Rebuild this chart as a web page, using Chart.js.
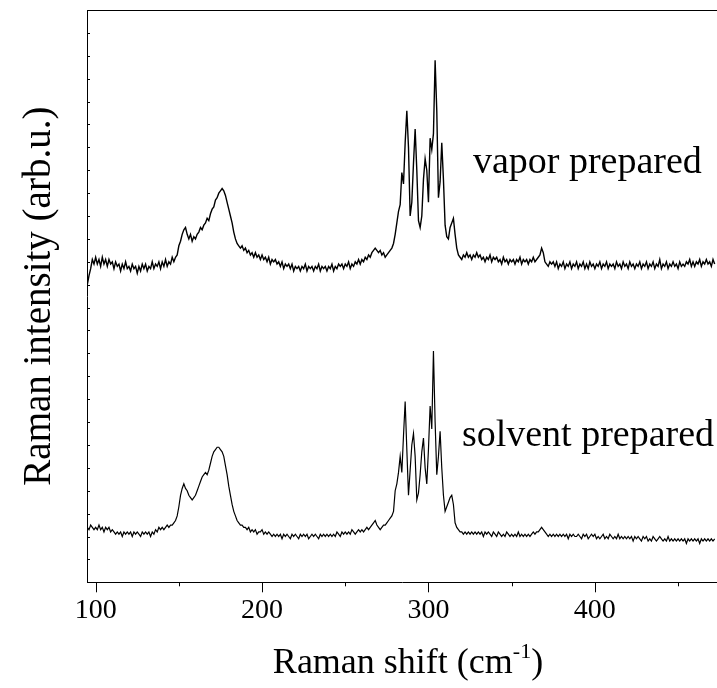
<!DOCTYPE html>
<html>
<head>
<meta charset="utf-8">
<script src="https://cdn.jsdelivr.net/npm/chart.js@4.4.0/dist/chart.umd.min.js"></script>
<style>
    html, body { margin: 0; padding: 0; background: #fff; }
    #wrap { width: 717px; height: 688px; }
</style>
</head>
<body>
<div id="wrap"><canvas id="ramanChart" width="717" height="688"></canvas></div>
<script>
// Raman shift (cm-1), one point per wavenumber
const shift = [95, 96, 97, 98, 99,
    100, 101, 102, 103, 104, 105, 106, 107, 108, 109,
    110, 111, 112, 113, 114, 115, 116, 117, 118, 119,
    120, 121, 122, 123, 124, 125, 126, 127, 128, 129,
    130, 131, 132, 133, 134, 135, 136, 137, 138, 139,
    140, 141, 142, 143, 144, 145, 146, 147, 148, 149,
    150, 151, 152, 153, 154, 155, 156, 157, 158, 159,
    160, 161, 162, 163, 164, 165, 166, 167, 168, 169,
    170, 171, 172, 173, 174, 175, 176, 177, 178, 179,
    180, 181, 182, 183, 184, 185, 186, 187, 188, 189,
    190, 191, 192, 193, 194, 195, 196, 197, 198, 199,
    200, 201, 202, 203, 204, 205, 206, 207, 208, 209,
    210, 211, 212, 213, 214, 215, 216, 217, 218, 219,
    220, 221, 222, 223, 224, 225, 226, 227, 228, 229,
    230, 231, 232, 233, 234, 235, 236, 237, 238, 239,
    240, 241, 242, 243, 244, 245, 246, 247, 248, 249,
    250, 251, 252, 253, 254, 255, 256, 257, 258, 259,
    260, 261, 262, 263, 264, 265, 266, 267, 268, 269,
    270, 271, 272, 273, 274, 275, 276, 277, 278, 279,
    280, 281, 282, 283, 284, 285, 286, 287, 288, 289,
    290, 291, 292, 293, 294, 295, 296, 297, 298, 299,
    300, 301, 302, 303, 304, 305, 306, 307, 308, 309,
    310, 311, 312, 313, 314, 315, 316, 317, 318, 319,
    320, 321, 322, 323, 324, 325, 326, 327, 328, 329,
    330, 331, 332, 333, 334, 335, 336, 337, 338, 339,
    340, 341, 342, 343, 344, 345, 346, 347, 348, 349,
    350, 351, 352, 353, 354, 355, 356, 357, 358, 359,
    360, 361, 362, 363, 364, 365, 366, 367, 368, 369,
    370, 371, 372, 373, 374, 375, 376, 377, 378, 379,
    380, 381, 382, 383, 384, 385, 386, 387, 388, 389,
    390, 391, 392, 393, 394, 395, 396, 397, 398, 399,
    400, 401, 402, 403, 404, 405, 406, 407, 408, 409,
    410, 411, 412, 413, 414, 415, 416, 417, 418, 419,
    420, 421, 422, 423, 424, 425, 426, 427, 428, 429,
    430, 431, 432, 433, 434, 435, 436, 437, 438, 439,
    440, 441, 442, 443, 444, 445, 446, 447, 448, 449,
    450, 451, 452, 453, 454, 455, 456, 457, 458, 459,
    460, 461, 462, 463, 464, 465, 466, 467, 468, 469,
    470, 471, 472];

// vapor prepared (upper trace), arb. units
const vapor = [130, 134, 137, 141, 139,
    142, 139, 141, 138, 142, 139, 141, 138, 141, 139,
    140, 137, 140, 138, 139, 136, 139, 137, 140, 137,
    138, 136, 139, 137, 138, 135, 138, 136, 139, 137,
    139, 136, 138, 137, 140, 137, 139, 138, 140, 137,
    140, 138, 141, 138, 140, 139, 142, 140, 142, 143,
    147, 149, 152, 154, 155, 152, 150, 152, 149, 151,
    150, 152, 153, 155, 154, 156, 157, 159, 158, 161,
    163, 164, 167, 168, 170, 171, 172, 171, 169, 166,
    163, 160, 157, 153, 150, 148, 147, 146, 147, 145,
    146, 144, 145, 143, 144, 142, 144, 142, 143, 141,
    143, 141, 142, 140, 142, 139, 141, 140, 141, 139,
    140, 138, 140, 137, 139, 138, 139, 137, 139, 136,
    138, 137, 138, 136, 138, 137, 139, 136, 138, 137,
    138, 136, 138, 137, 139, 136, 138, 137, 138, 136,
    138, 137, 139, 136, 138, 137, 139, 138, 139, 137,
    139, 138, 140, 137, 139, 138, 140, 139, 141, 139,
    141, 140, 142, 141, 143, 142, 144, 145, 146, 145,
    144, 145, 143, 144, 142, 143, 144, 145, 146, 148,
    152, 157, 162, 165, 179, 174, 192, 206, 190, 160,
    166, 183, 198, 180, 158, 155, 160, 176, 185, 180,
    166, 194, 189, 196, 228, 206, 168, 175, 192, 176,
    156, 151, 150, 155, 157, 159, 152, 146, 143, 142,
    141, 143, 142, 144, 142, 143, 141, 143, 142, 144,
    142, 143, 141, 142, 140, 142, 141, 143, 140, 142,
    141, 142, 140, 141, 139, 142, 140, 141, 139, 141,
    140, 141, 139, 141, 140, 142, 139, 141, 140, 141,
    139, 141, 140, 142, 140, 141, 142, 143, 146, 144,
    140, 139, 138, 140, 139, 140, 138, 140, 137, 139,
    138, 140, 137, 139, 138, 140, 137, 139, 138, 140,
    137, 139, 138, 140, 137, 139, 137, 140, 138, 139,
    137, 139, 138, 140, 137, 139, 138, 140, 137, 139,
    138, 139, 137, 140, 138, 139, 137, 140, 138, 139,
    137, 140, 138, 139, 137, 139, 138, 140, 137, 139,
    138, 140, 137, 139, 138, 140, 137, 139, 138, 141,
    137, 139, 138, 140, 137, 139, 138, 140, 138, 139,
    137, 140, 138, 139, 138, 140, 139, 141, 138, 140,
    138, 140, 139, 141, 138, 140, 139, 141, 139, 140,
    138, 141, 139];

// solvent prepared (lower trace), arb. units
const solvent = [24, 23, 25, 24, 23,
    24, 23, 25, 23, 24, 22, 24, 23, 24, 22,
    23, 22, 21, 22, 21, 22, 20, 22, 21, 22,
    21, 22, 20, 22, 21, 22, 21, 20, 22, 21,
    22, 21, 22, 20, 22, 21, 23, 22, 24, 23,
    24, 23, 24, 25, 24, 25, 25, 26, 27, 29,
    33, 38, 41, 43, 41, 40, 38, 37, 36, 37,
    38, 40, 42, 44, 46, 47, 48, 47, 49, 52,
    55, 57, 58, 59, 59, 58, 57, 55, 51, 47,
    42, 38, 34, 31, 29, 27, 26, 25, 25, 24,
    24, 23, 24, 22, 23, 22, 23, 21, 22, 22,
    23, 21, 22, 21, 22, 21, 20, 21, 20, 21,
    20, 21, 19, 21, 20, 21, 20, 19, 21, 20,
    21, 20, 19, 21, 20, 21, 20, 21, 19, 20,
    21, 20, 21, 20, 19, 21, 20, 21, 20, 21,
    20, 21, 20, 21, 20, 22, 21, 20, 22, 21,
    22, 21, 22, 21, 23, 22, 21, 22, 23, 22,
    23, 22, 23, 24, 23, 24, 25, 26, 27, 25,
    24, 23, 24, 25, 25, 26, 27, 28, 29, 31,
    40, 43, 48, 55, 48, 64, 79, 58, 38, 49,
    60, 65, 55, 36, 39, 47, 57, 63, 50, 43,
    58, 77, 67, 101, 70, 47, 55, 66, 50, 38,
    31, 33, 35, 37, 38, 34, 26, 24, 23, 22,
    22, 21, 22, 21, 22, 21, 22, 21, 22, 21,
    22, 21, 22, 20, 22, 21, 22, 21, 20, 22,
    21, 20, 22, 21, 20, 21, 20, 22, 21, 20,
    21, 20, 21, 20, 22, 20, 21, 20, 21, 20,
    21, 20, 21, 22, 21, 22, 22, 23, 24, 23,
    22, 21, 20, 21, 20, 21, 20, 21, 20, 21,
    20, 21, 20, 21, 19, 21, 20, 21, 20, 20,
    21, 20, 19, 21, 20, 21, 19, 20, 21, 20,
    21, 19, 20, 19, 20, 21, 19, 20, 19, 21,
    20, 19, 20, 19, 21, 19, 20, 19, 20, 19,
    20, 19, 20, 18, 20, 19, 20, 19, 18, 20,
    19, 20, 18, 19, 18, 20, 19, 18, 19, 20,
    19, 18, 19, 18, 20, 18, 19, 18, 19, 18,
    19, 18, 19, 18, 19, 17, 19, 18, 19, 18,
    19, 18, 19, 17, 19, 18, 19, 18, 19, 18,
    19, 18, 19];

const xTickValues = [100, 150, 200, 250, 300, 350, 400, 450];
const yTickValues = [0, 10, 20, 30, 40, 50, 60, 70, 80, 90, 100, 110, 120, 130, 140, 150, 160, 170, 180, 190,
    200, 210, 220, 230, 240, 250];
const sampleLabels = ['vapor prepared', 'solvent prepared'];

const FONT = "'Liberation Serif', 'Times New Roman', serif";

function toPoints(ys) {
    return shift.map((x, i) => ({ x: x, y: ys[i] }));
}

// khung trên, vạch chia và chữ
const decorPlugin = {
    id: 'decor',
    afterDraw(chart) {
        const ctx = chart.ctx;
        const area = chart.chartArea;
        const xs = chart.scales.x;
        const ys = chart.scales.y;
        ctx.save();
        ctx.strokeStyle = '#000';
        ctx.lineWidth = 1;

        ctx.beginPath();
        ctx.moveTo(area.left, Math.round(area.top) + 0.5);
        ctx.lineTo(area.right, Math.round(area.top) + 0.5);
        ctx.stroke();

        xTickValues.forEach(v => {
            const px = Math.round(xs.getPixelForValue(v)) + 0.5;
            const len = v % 100 === 0 ? 10 : 4;
            ctx.beginPath();
            ctx.moveTo(px, area.bottom);
            ctx.lineTo(px, area.bottom + len);
            ctx.stroke();
        });

        yTickValues.forEach(v => {
            const py = Math.round(ys.getPixelForValue(v)) + 0.5;
            ctx.beginPath();
            ctx.moveTo(area.left, py);
            ctx.lineTo(area.left + 3, py);
            ctx.stroke();
        });

        ctx.fillStyle = '#000';
        ctx.textBaseline = 'alphabetic';
        ctx.textAlign = 'left';
        ctx.font = '38px ' + FONT;
        ctx.fillText(sampleLabels[0], xs.getPixelForValue(326.7), ys.getPixelForValue(178.8));
        ctx.fillText(sampleLabels[1], xs.getPixelForValue(320.1), ys.getPixelForValue(59.7));

        // x title with superscript
        const main = 'Raman shift (cm';
        const sup = '-1';
        const close = ')';
        ctx.font = '36px ' + FONT;
        const wMain = ctx.measureText(main).width;
        const wClose = ctx.measureText(close).width;
        ctx.font = '22px ' + FONT;
        const wSup = ctx.measureText(sup).width;
        let tx = 408 - (wMain + wSup + wClose) / 2;
        const ty = 673;
        ctx.font = '36px ' + FONT;
        ctx.fillText(main, tx, ty);
        tx += wMain;
        ctx.font = '22px ' + FONT;
        ctx.fillText(sup, tx, ty - 15);
        tx += wSup;
        ctx.font = '36px ' + FONT;
        ctx.fillText(close, tx, ty);

        // y title
        ctx.translate(50, (area.top + area.bottom) / 2);
        ctx.rotate(-Math.PI / 2);
        ctx.textAlign = 'center';
        ctx.font = '39px ' + FONT;
        ctx.fillText('Raman intensity (arb.u.)', 0, 0);
        ctx.restore();
    }
};

function drawRamanChart() {
    const ctx = document.getElementById('ramanChart').getContext('2d');
    new Chart(ctx, {
        type: 'line',
        data: {
            datasets: [{
                label: sampleLabels[0],
                data: toPoints(vapor),
                borderColor: '#000',
                borderWidth: 1.4,
                pointRadius: 0,
                tension: 0,
                fill: false
            }, {
                label: sampleLabels[1],
                data: toPoints(solvent),
                borderColor: '#000',
                borderWidth: 1.2,
                pointRadius: 0,
                tension: 0,
                fill: false
            }]
        },
        options: {
            responsive: false,
            animation: false,
            devicePixelRatio: 1,
            layout: { padding: { top: 10, right: 0, bottom: 0, left: 0 } },
            plugins: {
                legend: { display: false },
                tooltip: { enabled: false }
            },
            scales: {
                x: {
                    type: 'linear',
                    min: 94.8,
                    max: 473.4,
                    afterBuildTicks: s => { s.ticks = xTickValues.map(v => ({ value: v })); },
                    afterFit: s => { s.height = 105.7; },
                    grid: { display: true, drawOnChartArea: false, drawTicks: true, tickLength: 10, color: 'rgba(0,0,0,0)' },
                    border: { display: true, color: '#000', width: 1 },
                    ticks: {
                        autoSkip: false,
                        maxRotation: 0,
                        padding: 2,
                        color: '#000',
                        font: { family: FONT, size: 28 },
                        callback: v => (v % 100 === 0 ? String(v) : '')
                    }
                },
                y: {
                    type: 'linear',
                    min: 0,
                    max: 250,
                    afterBuildTicks: s => { s.ticks = yTickValues.map(v => ({ value: v })); },
                    afterFit: s => { s.width = 87; },
                    ticks: { display: false },
                    grid: { display: false },
                    border: { display: true, color: '#000', width: 1 }
                }
            }
        },
        plugins: [decorPlugin]
    });
}

drawRamanChart();
</script>
</body>
</html>
